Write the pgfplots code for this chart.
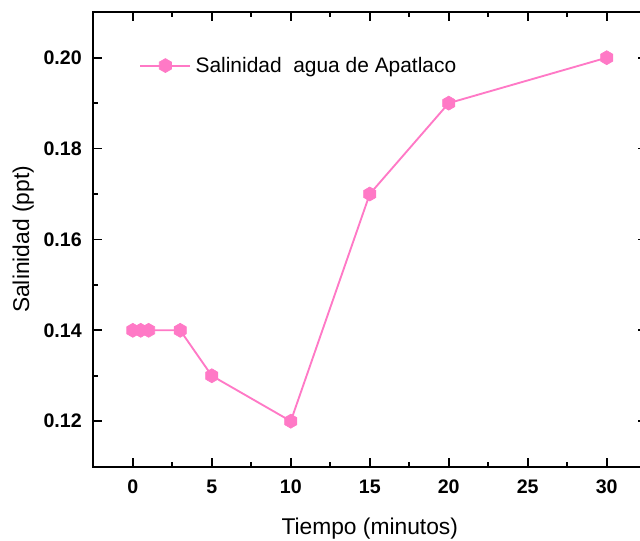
\documentclass[border=0pt]{standalone}
\usepackage{pgfplots}
\pgfplotsset{compat=1.18}
\usepackage{fontspec}
\setmainfont{Liberation Sans}
\definecolor{pinkc}{RGB}{255,121,198}
\pgfdeclareplotmark{hexa}{%
  \pgfpathmoveto{\pgfqpointpolar{90}{\pgfplotmarksize}}%
  \pgfpathlineto{\pgfqpointpolar{150}{\pgfplotmarksize}}%
  \pgfpathlineto{\pgfqpointpolar{210}{\pgfplotmarksize}}%
  \pgfpathlineto{\pgfqpointpolar{270}{\pgfplotmarksize}}%
  \pgfpathlineto{\pgfqpointpolar{330}{\pgfplotmarksize}}%
  \pgfpathlineto{\pgfqpointpolar{30}{\pgfplotmarksize}}%
  \pgfpathclose
  \pgfusepathqfillstroke}
\begin{document}
\begin{tikzpicture}
\begin{axis}[
  name=ax,
  scale only axis,
  width=414.7pt, height=340.8pt,
  xmin=-2.5, xmax=32.5, ymin=0.11, ymax=0.21,
  xtick={0,5,10,15,20,25,30},
  ytick={0.12,0.14,0.16,0.18,0.20},
  minor x tick num=1, minor y tick num=1,
  xtick pos=both, ytick pos=both,
  xticklabel pos=lower, yticklabel pos=left,
  tick align=inside,
  major tick length=6.5pt, minor tick length=3.5pt,
  axis line style={line width=1.5pt},
  every tick/.style={black, line width=1.3pt},
  /pgf/number format/assume math mode=true,
  yticklabel style={/pgf/number format/fixed, /pgf/number format/fixed zerofill, /pgf/number format/precision=2},
  scaled y ticks=false,
  tick label style={font=\fontsize{14.7}{17}\selectfont\bfseries, inner sep=0pt},
  yticklabel style={anchor=east, xshift=-8.5pt},
  xticklabel style={anchor=north, yshift=-10pt},
  xlabel={Tiempo (minutos)},
  ylabel={Salinidad (ppt)},
  label style={font=\fontsize{17.1}{20}\selectfont},
  xlabel style={at={([yshift=-51.2pt]axis description cs:0.5,0)}, anchor=base},
  ylabel style={at={([xshift=-52.5pt]axis description cs:0,0.5)}, anchor=center, rotate=0},
  legend style={draw=none, fill=none, inner sep=0pt, nodes={inner sep=3.2pt},
    font=\fontsize{15.7}{18}\selectfont,
    at={([xshift=34.4pt,yshift=-40pt]axis description cs:0,1)}, anchor=west},
  legend image code/.code={\draw[mark repeat=2,mark phase=2,#1] plot coordinates {(0pt,0pt) (18.75pt,0pt) (37.5pt,0pt)};},
]
\addplot[color=pinkc, line width=1.4pt, mark=hexa, mark size=5.25pt, mark options={fill=pinkc, draw=pinkc, line width=0.5pt}]
  coordinates {(0,0.14) (0.5,0.14) (1,0.14) (3,0.14) (5,0.13) (10,0.12) (15,0.17) (20,0.19) (30,0.20)};
\addlegendentry{Salinidad\ \ agua de Apatlaco}
\end{axis}
\pgfresetboundingbox
\useasboundingbox ([xshift=-70pt,yshift=-55.7pt]ax.south west) rectangle ([xshift=-4.65pt,yshift=9.2pt]ax.north east);
\end{tikzpicture}
\end{document}
